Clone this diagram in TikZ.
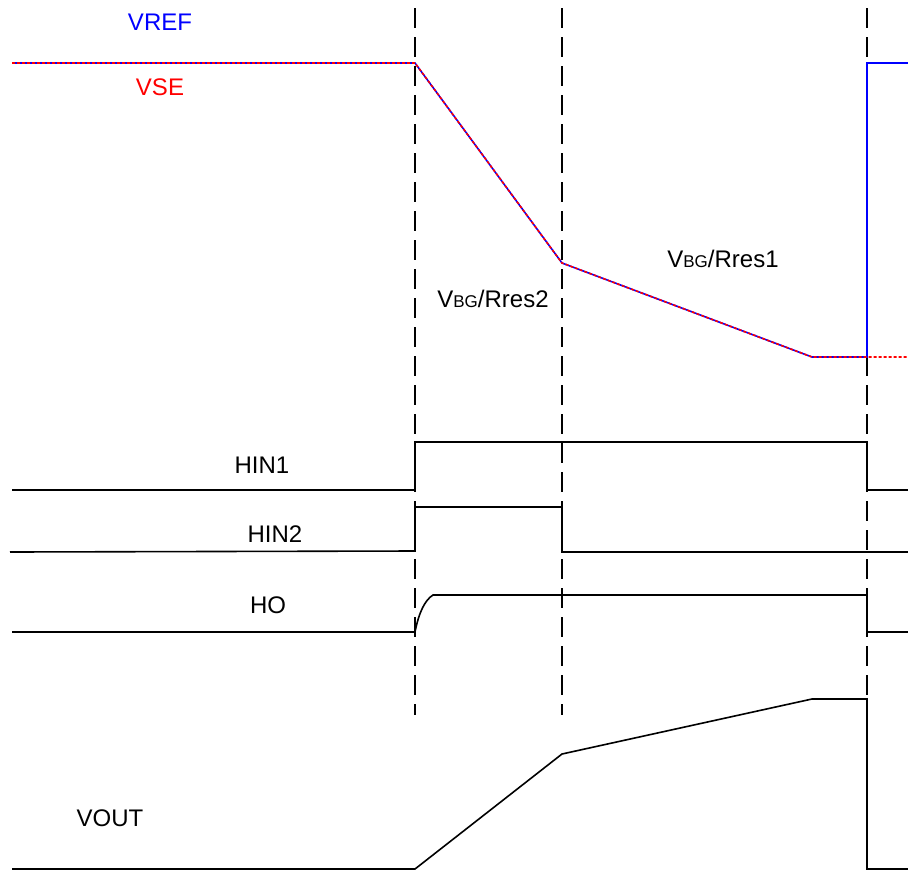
\documentclass[tikz,border=0pt]{standalone}
\usepackage{fontspec}
\setmainfont{Liberation Sans}
\begin{document}
\begin{tikzpicture}[x=1pt,y=-1pt,
  wave/.style={line width=1.6pt,black},
  guide/.style={line width=1.6pt,black,dash pattern=on 20pt off 9pt},
  vref/.style={line width=1.6pt,blue},
  vse/.style={line width=1.6pt,red,dash pattern=on 3pt off 2pt},
  lbl/.style={font=\fontsize{24}{28}\selectfont,inner sep=0pt}]
\useasboundingbox (0,0) rectangle (908,871);
% dashed guides
\draw[guide] (415,8) -- (415,715);
\draw[guide] (562,8) -- (562,715);
\draw[guide] (867,8) -- (867,715);
% VREF / VSE
\draw[vref] (12,63) -- (415,63) -- (562,263) -- (812,357) -- (867,357) -- (867,63) -- (908,63);
\draw[vse] (12,63) -- (415,63) -- (562,263) -- (812,357) -- (908,357);
\node[lbl,blue] (lvref) at (160,22) {VREF};
\node[lbl,red] (lvse) at (160,87) {VSE};
\node[lbl] (lres2) at (493,299) {V{\fontsize{17}{20}\selectfont BG}/Rres2};
\node[lbl] (lres1) at (723,259) {V{\fontsize{17}{20}\selectfont BG}/Rres1};
% HIN1
\draw[wave] (12,490) -- (415,490) -- (415,442) -- (867,442) -- (867,490) -- (908,490);
\node[lbl] (lhin1) at (262,465) {HIN1};
% HIN2
\draw[wave] (10,552) -- (415,551) -- (415,507) -- (562,507) -- (562,552) -- (908,552);
\node[lbl] (lhin2) at (275,534) {HIN2};
% HO
\draw[wave] (12,632) -- (415,632) .. controls (419,612) and (425,600) .. (433,595) -- (867,595) -- (867,632) -- (908,632);
\node[lbl] (lho) at (268,605) {HO};
% VOUT
\draw[wave] (12,869) -- (415,869) -- (562,754) -- (812,699) -- (867,699) -- (867,869) -- (908,869);
\node[lbl] (lvout) at (110,818) {VOUT};
\end{tikzpicture}
\end{document}
